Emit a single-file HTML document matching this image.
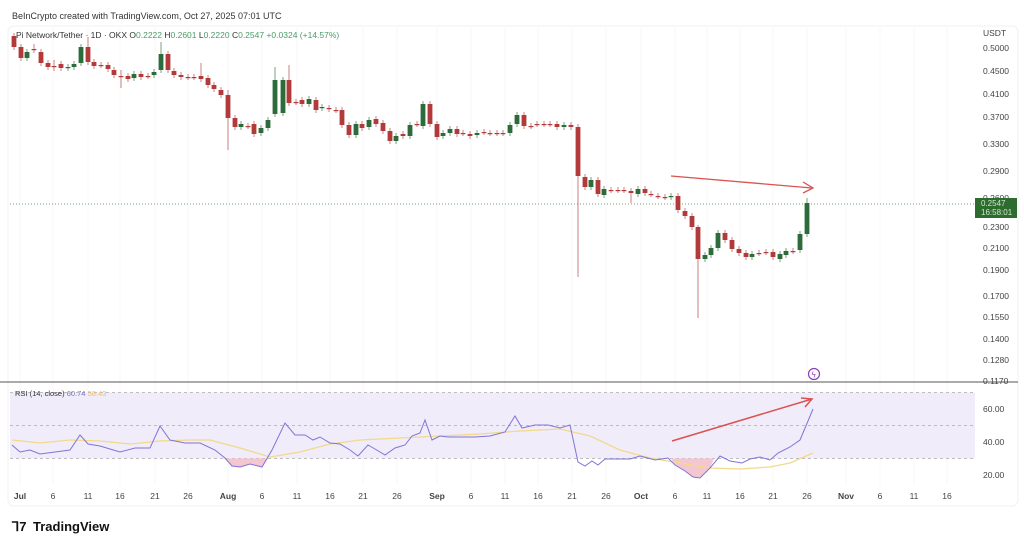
<!DOCTYPE html>
<html><head><meta charset="utf-8"><style>
html,body{margin:0;padding:0;background:#fff;width:1024px;height:539px;overflow:hidden;font-family:"Liberation Sans",sans-serif}
svg text{font-family:"Liberation Sans",sans-serif}
</style></head><body>
<svg id="s" width="1024" height="539" viewBox="0 0 1024 539" xmlns="http://www.w3.org/2000/svg">
<rect x="0" y="0" width="1024" height="539" fill="#fff"/>
<text x="12" y="19" font-size="9" fill="#333">BeInCrypto created with TradingView.com, Oct 27, 2025 07:01 UTC</text>
<rect x="8" y="26" width="1010" height="480" rx="6" fill="none" stroke="#f0f0f0"/>
<g id="grid"></g>
<rect x="10" y="392.5" width="965" height="66" fill="#f0ecfa"/>
<line x1="10" x2="975" y1="392.5" y2="392.5" stroke="#aaa" stroke-dasharray="3,3" stroke-width="0.8"/>
<line x1="10" x2="975" y1="425.5" y2="425.5" stroke="#aaa" stroke-dasharray="3,3" stroke-width="0.8"/>
<line x1="10" x2="975" y1="458.5" y2="458.5" stroke="#aaa" stroke-dasharray="3,3" stroke-width="0.8"/>
<line x1="0" x2="1018" y1="382" y2="382" stroke="#555" stroke-width="1"/>
<line x1="10" x2="975" y1="204" y2="204" stroke="#4a7a4a" stroke-dasharray="1,2" stroke-width="0.8"/>
<g id="c"></g>
<g id="r"></g>
<text x="16" y="38" font-size="8.5" fill="#333">Pi Network/Tether · 1D · OKX  <tspan>O</tspan><tspan fill="#4c9a6a">0.2222</tspan>  H<tspan fill="#4c9a6a">0.2601</tspan>  L<tspan fill="#4c9a6a">0.2220</tspan>  C<tspan fill="#4c9a6a">0.2547</tspan>  <tspan fill="#4c9a6a">+0.0324 (+14.57%)</tspan></text>
<text x="15" y="396" font-size="7.5" fill="#333">RSI (14, close) <tspan fill="#7b6fd0">60.74</tspan> <tspan fill="#f0c060">58.43</tspan></text>
<g font-size="8.5" fill="#444" id="ax"></g>
<rect x="975" y="198" width="42" height="20" fill="#2e6b2e"/>
<text x="981" y="206" font-size="8" fill="#cfe8cf">0.2547</text>
<text x="981" y="215" font-size="8" fill="#cfe8cf">16:58:01</text>
<line x1="671" y1="176" x2="812" y2="188" stroke="#d9534f" stroke-width="1.3"/>
<polyline points="803,182 813,188 803,193" fill="none" stroke="#d9534f" stroke-width="1.3"/>
<line x1="672" y1="441" x2="812" y2="399" stroke="#d9534f" stroke-width="1.5"/>
<polyline points="801,398 812,399 805,407" fill="none" stroke="#d9534f" stroke-width="1.5"/>
<circle cx="814" cy="374" r="5.5" fill="#fff" stroke="#8a3fb5" stroke-width="1.2"/>
<text x="811.5" y="377.5" font-size="8" fill="#8a3fb5">ϟ</text>
<text x="12" y="531" font-size="13" font-weight="bold" fill="#111">⅂7</text>
<text x="33" y="531" font-size="13" font-weight="bold" fill="#111">TradingView</text>
</svg>
<script>
const NS="http://www.w3.org/2000/svg";
function el(p,t,a,txt){const e=document.createElementNS(NS,t);for(const k in a)e.setAttribute(k,a[k]);if(txt!==undefined)e.textContent=txt;p.appendChild(e);return e;}
const G=document.getElementById('grid'),C=document.getElementById('c'),R=document.getElementById('r'),A=document.getElementById('ax');
const xl=[["Jul",20,1],["6",53],["11",88],["16",120],["21",155],["26",188],["Aug",228,1],["6",262],["11",297],["16",330],["21",363],["26",397],["Sep",437,1],["6",471],["11",505],["16",538],["21",572],["26",606],["Oct",641,1],["6",675],["11",707],["16",740],["21",773],["26",807],["Nov",846,1],["6",880],["11",914],["16",947]];
xl.forEach(([t,x,b])=>{el(G,'line',{x1:x,x2:x,y1:28,y2:485,stroke:'#f7f7f7','stroke-width':1});el(A,'text',{x:x,y:499,'text-anchor':'middle','font-weight':b?'bold':'normal','font-size':8.5},t);});
const yl=[["USDT",36],["0.5000",51],["0.4500",74],["0.4100",97],["0.3700",120],["0.3300",147],["0.2900",174],["0.2300",230],["0.2100",251],["0.1900",273],["0.1700",299],["0.1550",320],["0.1400",342],["0.1280",363],["0.1170",384],["60.00",412],["40.00",445],["20.00",478]];
yl.forEach(([t,y])=>{el(A,'text',{x:983,y:y,'font-size':8.5},t);});
el(A,'text',{x:983,y:201,'font-size':8.5},"0.2600");
const d=[[14,36,47],[21,47,58],[27,58,52],[34,49,50,44],[41,52,63],[48,63,67],[54,66,66,60,71],[61,64,68],[68,68,67],[74,67,64],[81,63,47],[88,47,62,37],[94,62,66],[101,65,65],[108,65,69],[114,70,75],[121,76,77,70,88],[128,76,79],[134,78,74,71],[141,74,77],[148,76,76],[154,75,72],[161,70,54,42],[168,54,70],[174,71,75],[181,75,77],[188,77,77],[194,77,77],[201,76,79,63],[208,78,85],[214,85,89],[221,90,95],[228,95,118,90,150],[235,118,127],[241,127,124],[248,126,126],[254,124,134],[261,133,128],[268,128,120],[275,114,80,67],[283,113,80],[289,80,103,65],[296,102,102],[302,100,104],[309,104,99],[316,100,110],[322,108,107],[329,108,109],[336,110,110],[342,110,125],[349,125,135],[356,135,124],[362,124,128],[369,127,120],[376,119,124],[383,123,131],[390,131,141],[396,141,136],[403,134,136],[410,136,125],[417,124,124],[423,126,104],[430,104,124],[437,124,137],[443,136,133],[450,133,129],[457,129,134],[463,133,133],[470,134,136],[477,135,133],[484,132,132],[490,133,133],[497,133,133],[503,133,133],[510,133,125],[517,124,115],[524,115,126],[531,126,126],[537,124,124],[544,124,124],[550,124,124],[557,124,127],[564,127,125],[571,125,127],[578,127,176,124,277],[585,177,187],[591,187,180],[598,180,194],[604,195,189],[611,190,190],[618,190,190],[624,190,190],[631,191,193,188,203],[638,194,189],[645,189,193],[651,194,194],[658,196,196],[665,197,197],[671,197,196],[678,196,210],[685,211,216],[692,216,227],[698,227,259,225,318],[705,259,255],[711,255,248],[718,248,233],[725,233,240],[732,240,249],[739,249,253],[746,253,257],[752,257,254],[759,253,253],[766,252,252],[773,252,257],[780,259,254],[786,255,251],[793,251,251],[800,250,234],[807,234,203,198]];
d.forEach(([x,o,c,h,l])=>{const col=c<o?'#2e6b3a':'#b33a3a';const top=Math.min(o,c),bot=Math.max(o,c);
h=h||top-3;l=l||bot+3;
el(C,'line',{x1:x,x2:x,y1:h,y2:l,stroke:col,'stroke-width':0.8,opacity:0.8});
el(C,'rect',{x:x-2.4,y:top,width:4.8,height:Math.max(bot-top,1.2),fill:col});});
const rs=[[12,445],[20,452],[30,450],[40,454],[55,452],[70,450],[80,435],[88,444],[100,446],[110,449],[120,452],[135,448],[150,448],[160,426],[170,440],[185,443],[200,443],[215,450],[225,458],[232,466],[240,467],[250,464],[262,467],[272,450],[285,423],[295,435],[305,435],[313,440],[320,437],[330,443],[340,444],[350,450],[358,456],[368,445],[375,449],[385,455],[395,448],[405,445],[412,436],[420,433],[425,420],[432,440],[440,436],[448,437],[460,437],[475,437],[490,436],[505,432],[515,416],[522,428],[535,425],[548,425],[560,428],[570,425],[578,462],[585,466],[592,461],[598,465],[605,459],[620,459],[630,459],[640,456],[655,460],[668,458],[675,465],[685,471],[693,477],[700,478],[710,468],[720,456],[730,461],[742,463],[750,459],[760,457],[770,460],[778,453],[790,447],[800,440],[808,421],[813,409]];
const ma=[[12,440],[40,443],[70,440],[100,441],[130,444],[160,441],[190,440],[210,440],[240,448],[270,457],[300,452],[330,444],[360,440],[400,438],[440,436],[480,434],[520,431],[560,429],[590,436],[620,450],[650,458],[680,463],[710,468],[740,469],[770,467],[790,463],[813,453]];
el(R,'polygon',{points:"224,458.5 232,466 240,467 250,464 262,467 268,458.5",fill:'#f4c6cf'});
el(R,'polygon',{points:"671,458.5 675,465 685,471 693,477 700,478 710,468 714,458.5",fill:'#f4c6cf'});
el(R,'polyline',{points:ma.map(p=>p.join(',')).join(' '),fill:'none',stroke:'#f3d98a','stroke-width':1.3});
el(R,'polyline',{points:rs.map(p=>p.join(',')).join(' '),fill:'none',stroke:'#8075d6','stroke-width':1});
</script>
</body></html>
